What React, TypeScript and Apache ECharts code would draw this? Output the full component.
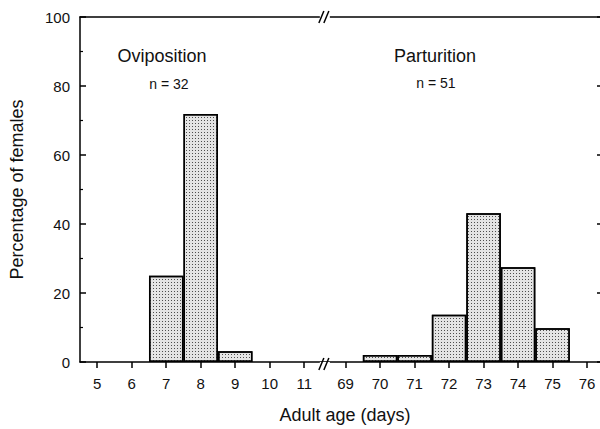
import React, { useEffect, useRef } from "react";
import * as echarts from "echarts";

// ---- data ----
const ovipositionDays = [5, 6, 7, 8, 9, 10, 11];
const ovipositionPct = [0, 0, 25, 71.9, 3.1, 0, 0];
const parturitionDays = [69, 70, 71, 72, 73, 74, 75, 76];
const parturitionPct = [0, 2, 2, 13.7, 43.1, 27.5, 9.8, 0];
const yTicks = [0, 20, 40, 60, 80, 100];
const groupLabels = ["Oviposition", "Parturition"];
const groupCounts = ["n = 32", "n = 51"];

// ---- layout ----
const W = 600;
const H = 429;
const GRID_LEFT = 79;
const GRID_RIGHT = -1;
const GRID_TOP = 17;
const GRID_BOTTOM = 65;
const X_MIN = 4.5;
const X_MAX = 19.575;
const BREAK_GAP = 1.2;
const FONT = "'Liberation Sans', Arial, Helvetica, sans-serif";
const INK = "#111";

const lastA = ovipositionDays[ovipositionDays.length - 1];
const posA = (d: number) => d;
const posB = (d: number) => lastA + BREAK_GAP + (d - parturitionDays[0]);
const breakPos = lastA + BREAK_GAP / 2;

const tickPositions: number[] = [];
const labelMap: Record<string, string> = {};
ovipositionDays.forEach((d) => {
  const p = posA(d);
  tickPositions.push(p);
  labelMap[p.toFixed(2)] = String(d);
});
parturitionDays.forEach((d) => {
  const p = posB(d);
  tickPositions.push(p);
  labelMap[p.toFixed(2)] = String(d);
});

const barData: number[][] = [];
ovipositionDays.forEach((d, i) => {
  if (ovipositionPct[i] > 0) barData.push([posA(d), ovipositionPct[i]]);
});
parturitionDays.forEach((d, i) => {
  if (parturitionPct[i] > 0) barData.push([posB(d), parturitionPct[i]]);
});

export default function App() {
  const ref = useRef<HTMLDivElement>(null);
  useEffect(() => {
    if (!ref.current) return;
    const chart = echarts.init(ref.current, null, { renderer: "svg" });
    const plotW = W - GRID_LEFT - GRID_RIGHT;
    const bx = GRID_LEFT + ((breakPos - X_MIN) / (X_MAX - X_MIN)) * plotW;
    const yBottom = H - GRID_BOTTOM;
    const yTop = GRID_TOP;
    const mkBreak = (y: number) => [
      {
        type: "rect",
        shape: { x: bx - 5, y: y - 2, width: 10, height: 4 },
        style: { fill: "#fff" },
        z: 100,
      },
      {
        type: "line",
        shape: { x1: bx - 6, y1: y + 6, x2: bx - 1, y2: y - 6 },
        style: { stroke: "#000", lineWidth: 1.5 },
        z: 101,
      },
      {
        type: "line",
        shape: { x1: bx - 1, y1: y + 6, x2: bx + 4, y2: y - 6 },
        style: { stroke: "#000", lineWidth: 1.5 },
        z: 101,
      },
    ];
    const lineStyle = { color: "#000", width: 1.5 };
    const option: any = {
      animation: false,
      backgroundColor: "#fff",
      textStyle: { fontFamily: FONT, color: INK },
      grid: {
        left: GRID_LEFT,
        right: GRID_RIGHT,
        top: GRID_TOP,
        bottom: GRID_BOTTOM,
        containLabel: false,
      },
      xAxis: [
        {
          type: "value",
          position: "bottom",
          min: X_MIN,
          max: X_MAX,
          name: "Adult age (days)",
          nameLocation: "middle",
          nameGap: 44,
          nameTextStyle: {
            fontFamily: FONT,
            fontSize: 18,
            color: INK,
            padding: [0, 0, 0, 10],
          },
          axisLine: { show: true, onZero: false, lineStyle },
          axisTick: {
            show: true,
            customValues: tickPositions,
            length: 6,
            inside: false,
            lineStyle,
          },
          axisLabel: {
            customValues: tickPositions,
            formatter: (v: number) => labelMap[v.toFixed(2)] ?? "",
            fontFamily: FONT,
            fontSize: 15,
            color: INK,
            margin: 14,
          },
          splitLine: { show: false },
        },
        {
          type: "value",
          position: "top",
          min: X_MIN,
          max: X_MAX,
          axisLine: { show: true, onZero: false, lineStyle },
          axisTick: { show: false },
          axisLabel: { show: false },
          splitLine: { show: false },
        },
      ],
      yAxis: [
        {
          type: "value",
          position: "left",
          min: yTicks[0],
          max: yTicks[yTicks.length - 1],
          interval: yTicks[1] - yTicks[0],
          name: "Percentage of females",
          nameLocation: "middle",
          nameGap: 54,
          nameTextStyle: { fontFamily: FONT, fontSize: 18, color: INK },
          axisLine: { show: true, onZero: false, lineStyle },
          axisTick: {
            show: true,
            inside: true,
            length: 6,
            lineStyle,
          },
          minorTick: {
            show: true,
            splitNumber: 2,
            length: 3,
            lineStyle: { color: "#000", width: 1.2 },
          },
          axisLabel: {
            fontFamily: FONT,
            fontSize: 15,
            color: INK,
            margin: 10,
          },
          splitLine: { show: false },
        },
        {
          type: "value",
          position: "right",
          min: yTicks[0],
          max: yTicks[yTicks.length - 1],
          interval: yTicks[1] - yTicks[0],
          axisLine: { show: false, onZero: false, lineStyle },
          axisTick: {
            show: true,
            inside: true,
            length: 3,
            lineStyle,
          },
          axisLabel: { show: false },
          splitLine: { show: false },
        },
      ],
      series: [
        {
          type: "bar",
          xAxisIndex: 0,
          yAxisIndex: 0,
          data: barData,
          barWidth: "100%",
          itemStyle: {
            color: "#e4e4e4",
            borderColor: "#000",
            borderWidth: 1.5,
            decal: {
              symbol: "rect",
              symbolSize: 1,
              color: "rgba(40,40,40,0.8)",
              dashArrayX: [1, 2],
              dashArrayY: [1, 2],
              rotation: 0,
            },
          },
        },
      ],
      graphic: [
        ...mkBreak(yBottom),
        ...mkBreak(yTop),
        {
          type: "text",
          x: 162,
          y: 56,
          style: {
            text: groupLabels[0],
            font: `18px ${FONT}`,
            fill: INK,
            align: "center",
            verticalAlign: "middle",
          },
        },
        {
          type: "text",
          x: 169,
          y: 84,
          style: {
            text: groupCounts[0],
            font: `14px ${FONT}`,
            fill: INK,
            align: "center",
            verticalAlign: "middle",
          },
        },
        {
          type: "text",
          x: 435,
          y: 56,
          style: {
            text: groupLabels[1],
            font: `18px ${FONT}`,
            fill: INK,
            align: "center",
            verticalAlign: "middle",
          },
        },
        {
          type: "text",
          x: 436,
          y: 83,
          style: {
            text: groupCounts[1],
            font: `14px ${FONT}`,
            fill: INK,
            align: "center",
            verticalAlign: "middle",
          },
        },
      ],
    };
    chart.setOption(option);
    return () => chart.dispose();
  }, []);
  return (
    <div
      ref={ref}
      style={{ position: "fixed", left: 0, top: 0, width: W, height: H, background: "#fff" }}
    />
  );
}
